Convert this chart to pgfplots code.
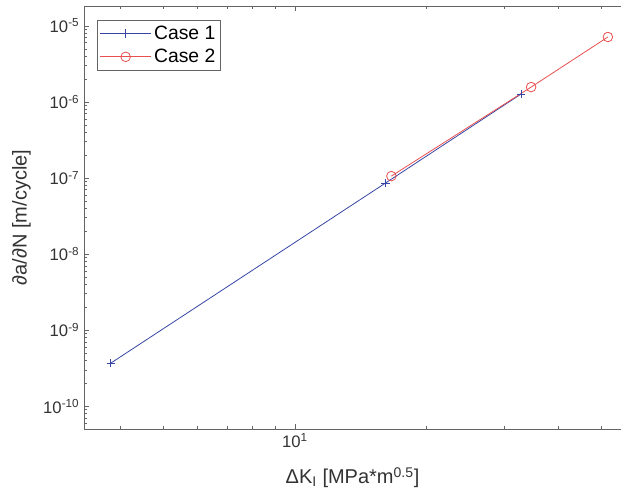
\documentclass[border=0pt]{standalone}
\usepackage{fontspec}
\setmainfont{Liberation Sans}
\usepackage{pgfplots}
\pgfplotsset{compat=1.18}

\definecolor{caseone}{RGB}{55,70,165}
\definecolor{casetwo}{RGB}{232,80,80}
\definecolor{axgray}{RGB}{100,100,100}

\begin{document}
\begin{tikzpicture}
\begin{axis}[
    name=ax,
    at={(0,0)}, anchor=south west,
    scale only axis,
    width=402.75pt, height=317.25pt,
    xmode=log, ymode=log,
    xmin=3.3, xmax=55.5,
    ymin=5e-11, ymax=1.83e-5,
    axis x line*=box, axis y line*=left,
    axis line style={-, axgray, line width=0.6pt},
    tick align=inside,
    major tick length=4pt, minor tick length=2pt,
    every tick/.style={axgray, line width=0.5pt},
    xtick={10}, xticklabels={10\textsuperscript{1}},
    minor xtick={4,5,6,7,8,9,20,30,40,50},
    ytick={1e-10,1e-9,1e-8,1e-7,1e-6,1e-5},
    yticklabels={10\textsuperscript{-10},10\textsuperscript{-9},10\textsuperscript{-8},10\textsuperscript{-7},10\textsuperscript{-6},10\textsuperscript{-5}},
    minor ytick={6e-11,7e-11,8e-11,9e-11,
        2e-10,3e-10,4e-10,5e-10,6e-10,7e-10,8e-10,9e-10,
        2e-9,3e-9,4e-9,5e-9,6e-9,7e-9,8e-9,9e-9,
        2e-8,3e-8,4e-8,5e-8,6e-8,7e-8,8e-8,9e-8,
        2e-7,3e-7,4e-7,5e-7,6e-7,7e-7,8e-7,9e-7,
        2e-6,3e-6,4e-6,5e-6,6e-6,7e-6,8e-6,9e-6},
    tick label style={font=\fontsize{12.5}{14}\selectfont, text=black!80},
    xlabel={ΔK\textsubscript{I} [MPa*m\textsuperscript{0.5}]},
    ylabel={∂a/∂N [m/cycle]},
    label style={font=\fontsize{15}{18}\selectfont, text=black!80},
    xlabel style={at={(axis description cs:0.5,0)}, anchor=center, yshift=-36.5pt},
    ylabel style={at={(axis description cs:0,0.5)}, anchor=center, rotate=0, yshift=47pt},
    legend style={at={(axis description cs:0,1)}, anchor=north west,
        xshift=9.75pt, yshift=-10.5pt, draw=axgray,
        font=\fontsize{14.5}{17}\selectfont, inner sep=2pt,
        row sep=2pt, cells={anchor=west}},
    legend cell align=left,
    legend image code/.code={
        \draw[mark repeat=2, mark phase=2]
        plot coordinates {(0pt,0pt) (19pt,0pt) (38pt,0pt)};},
]
\addplot[caseone, line width=0.6pt, mark=+, mark size=3.2pt,
    mark options={line width=0.6pt}] coordinates {
    (3.80, 3.68e-10) (16.1, 8.6e-8) (32.8, 1.27e-6)
};
\addlegendentry{Case 1}
\addplot[casetwo, line width=0.6pt, mark=o, mark size=3.6pt,
    mark options={line width=0.6pt}] coordinates {
    (16.6, 1.06e-7) (34.6, 1.57e-6) (51.8, 7.16e-6)
};
\addlegendentry{Case 2}
\end{axis}
\pgfresetboundingbox
\path[use as bounding box] ([shift={(-63pt,-48pt)}]ax.south west)
    rectangle ([shift={(0pt,4.5pt)}]ax.north east);
\end{tikzpicture}
\end{document}
